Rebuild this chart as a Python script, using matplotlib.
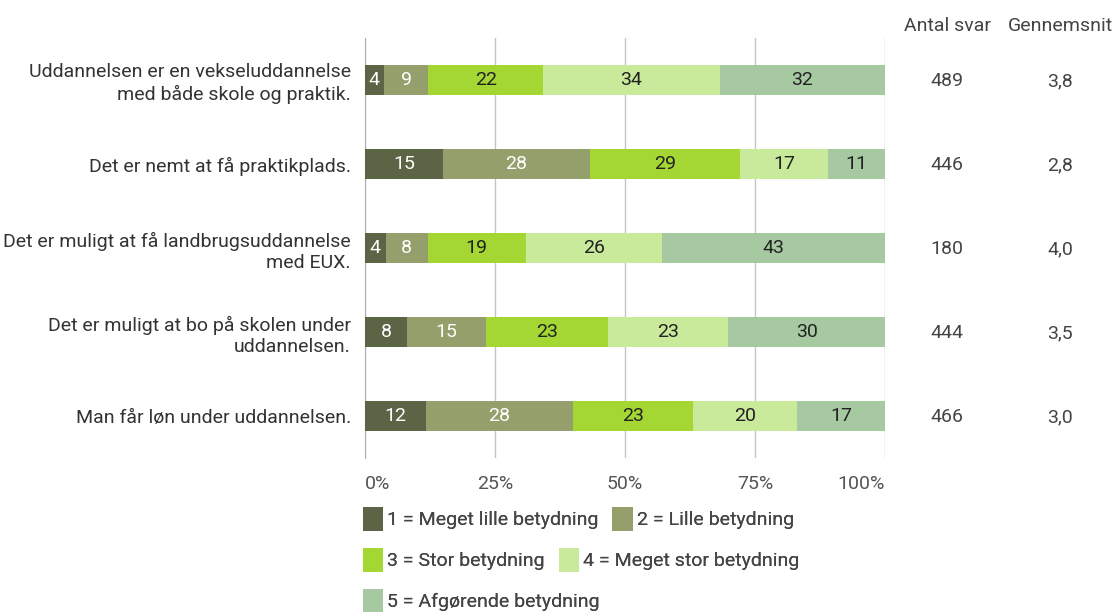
import matplotlib
matplotlib.use("Agg")
import matplotlib.pyplot as plt
import numpy as np

plt.rcParams["font.family"] = ["Roboto", "DejaVu Sans"]

# -------------------------------
# Data (percent shares per answer)
# -------------------------------
questions = [
    "Uddannelsen er en vekseluddannelse\nmed både skole og praktik.",
    "Det er nemt at få praktikplads.",
    "Det er muligt at få landbrugsuddannelse\nmed EUX.",
    "Det er muligt at bo på skolen under\nuddannelsen.",
    "Man får løn under uddannelsen.",
]
share_1 = [3.6, 15.0, 4.0, 8.1, 11.7]
share_2 = [8.6, 28.3, 8.1, 15.2, 28.3]
share_3 = [22.0, 28.8, 18.8, 23.5, 23.1]
share_4 = [34.0, 16.9, 26.2, 23.1, 20.0]
share_5 = [31.8, 11.0, 42.9, 30.1, 16.9]
labels_1 = [4, 15, 4, 8, 12]
labels_2 = [9, 28, 8, 15, 28]
labels_3 = [22, 29, 19, 23, 23]
labels_4 = [34, 17, 26, 23, 20]
labels_5 = [32, 11, 43, 30, 17]
antal_svar = [489, 446, 180, 444, 466]
gennemsnit = ["3,8", "2,8", "4,0", "3,5", "3,0"]

legend_names = [
    "1 = Meget lille betydning",
    "2 = Lille betydning",
    "3 = Stor betydning",
    "4 = Meget stor betydning",
    "5 = Afgørende betydning",
]
colors = ["#5b6444", "#949f6b", "#a4d733", "#c9e99b", "#a6c9a1"]
text_colors = ["white", "white", "#222222", "#222222", "#222222"]

shares = [share_1, share_2, share_3, share_4, share_5]
value_labels = [labels_1, labels_2, labels_3, labels_4, labels_5]

FS = 14

fig = plt.figure(figsize=(11.14, 6.12), dpi=100)
ax = fig.add_axes([365 / 1114, 1 - 458 / 612, 520 / 1114, 420 / 612])

y = np.arange(len(questions))
left = np.zeros(len(questions))
containers = []
for i in range(5):
    vals = np.array(shares[i])
    bars = ax.barh(y, vals, left=left, height=0.36, color=colors[i],
                   label=legend_names[i], zorder=3)
    containers.append(bars)
    for j in range(len(questions)):
        ax.text(left[j] + vals[j] / 2, y[j], str(value_labels[i][j]),
                ha="center", va="center", fontsize=FS,
                color=text_colors[i], zorder=4)
    left += vals

ax.set_xlim(0, 100)
ax.set_ylim(4.5, -0.5)
ax.set_xticks([0, 25, 50, 75, 100])
ax.set_xticklabels(["0%", "25%", "50%", "75%", "100%"])
ax.set_yticks(y)
ax.set_yticklabels(questions, fontsize=FS, color="#333333",
                   linespacing=1.25)
ax.tick_params(axis="both", length=0)
ax.tick_params(axis="x", labelsize=FS, pad=12)
ax.tick_params(axis="y", pad=10)
xl = ax.get_xticklabels()
for lbl in xl:
    lbl.set_color("#555555")
xl[0].set_horizontalalignment("left")
xl[-1].set_horizontalalignment("right")
ax.grid(axis="x", color="#c4c4c4", linewidth=1, zorder=0)
for s in ["top", "right", "bottom"]:
    ax.spines[s].set_visible(False)
ax.spines["left"].set_color("#b0b0b0")

# right hand columns
for j in range(len(questions)):
    yy = 1 - (81 + 84 * j) / 612
    fig.text(947 / 1114, yy, str(antal_svar[j]), ha="center", va="center",
             fontsize=FS, color="#444444")
    fig.text(1060 / 1114, yy, gennemsnit[j], ha="center", va="center",
             fontsize=FS, color="#444444")
fig.text(947 / 1114, 1 - 26 / 612, "Antal svar", ha="center", va="center",
         fontsize=FS, color="#444444")
fig.text(1060 / 1114, 1 - 26 / 612, "Gennemsnit", ha="center", va="center",
         fontsize=FS, color="#444444")

# legend rows
rows = [[0, 1], [2, 3], [4]]
row_y = [519, 560, 601]
for r, idx in enumerate(rows):
    leg = fig.legend([containers[k] for k in idx], [legend_names[k] for k in idx],
                     loc="center left", bbox_to_anchor=(363 / 1114, 1 - row_y[r] / 612),
                     ncol=len(idx), frameon=False, fontsize=FS,
                     handlelength=1.05, handleheight=1.45, handletextpad=0.2,
                     columnspacing=0.7, borderpad=0, borderaxespad=0,
                     labelcolor="#444444")
    fig.add_artist(leg)

fig.savefig("out.png", dpi=100)
